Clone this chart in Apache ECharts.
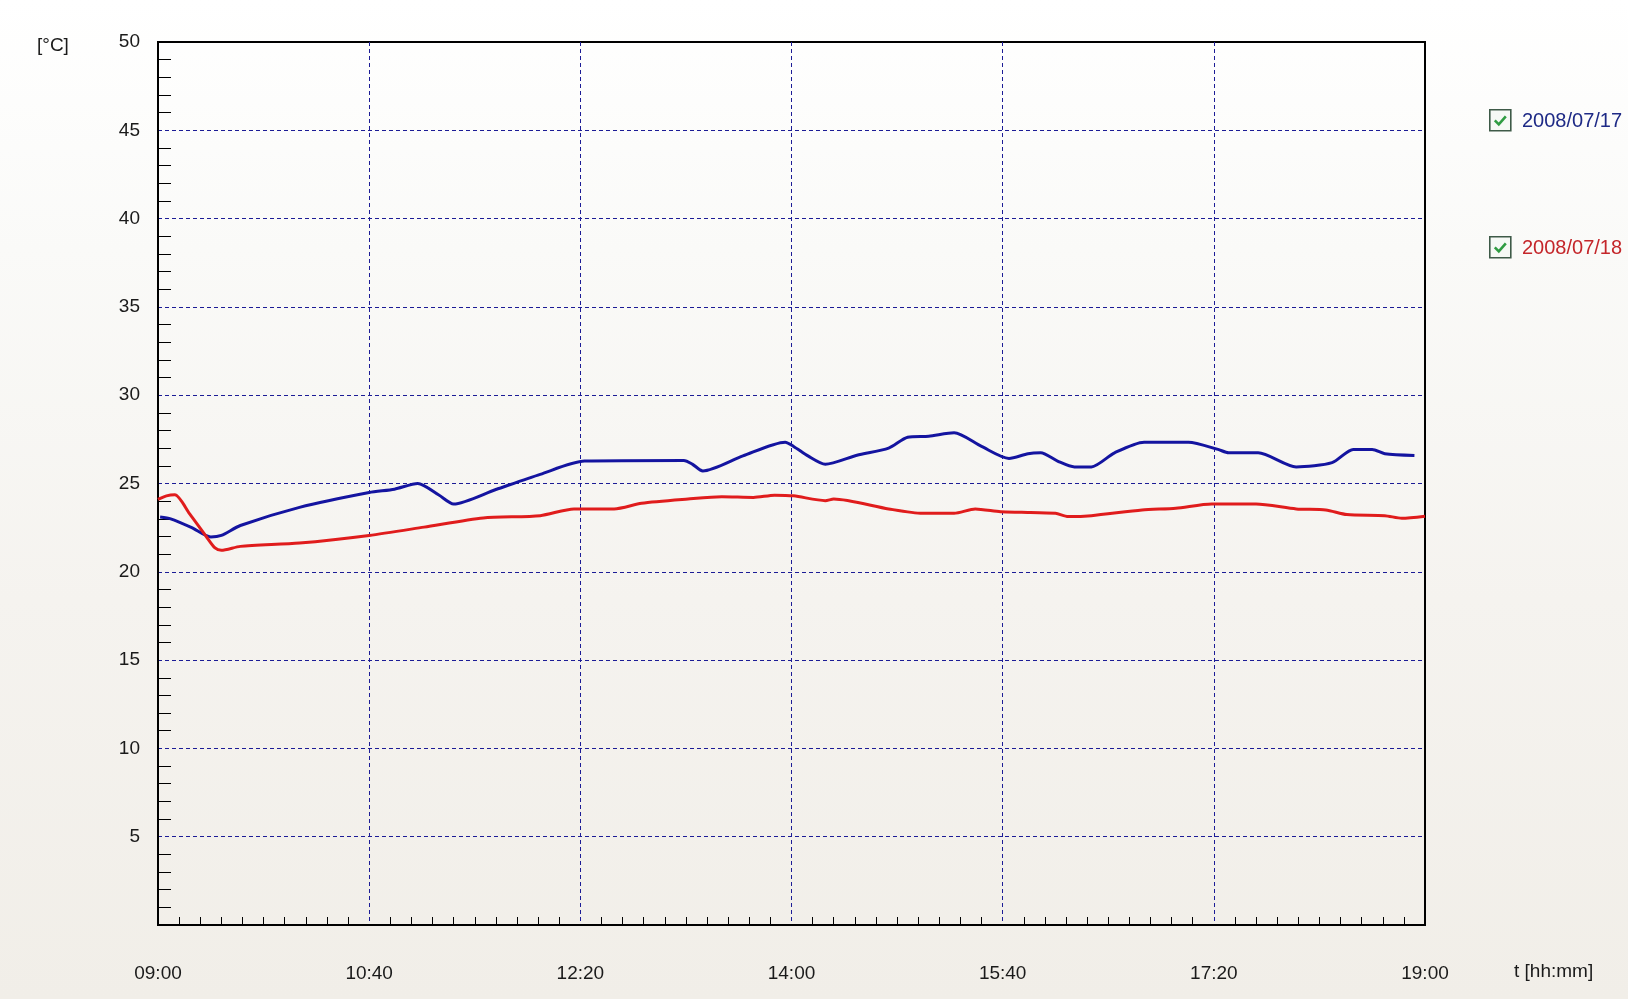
<!DOCTYPE html>
<html>
<head>
<meta charset="utf-8">
<title>Temperature 2008/07/17 – 2008/07/18</title>
<script src="https://cdn.jsdelivr.net/npm/echarts@6/dist/echarts.min.js"></script>
<style>
  html, body { margin: 0; padding: 0; }
  body {
    width: 1628px; height: 999px; overflow: hidden;
    background: linear-gradient(to bottom, #ffffff 0%, #fafaf8 25%, #f5f3ef 60%, #f1eee8 100%);
  }
  #chart { width: 1628px; height: 999px; }
</style>
</head>
<body>
<div id="chart"></div>
<script>
// Minutes after 09:00 and temperature in °C for each day
const seriesNames = ['2008/07/17', '2008/07/18'];

const day17Minutes = [1, 6, 16, 25, 30, 39, 67, 100, 112, 123, 133, 140, 160, 181, 202, 249, 253, 258, 277, 297, 301, 308, 316, 331, 346, 355, 365, 377, 390, 403, 412, 418, 426, 434, 442, 453, 467, 488, 502, 507, 521, 539, 556, 566, 575, 581, 595];
const day17Temps   = [23.1, 23.0, 22.5, 21.97, 22.06, 22.62, 23.65, 24.49, 24.68, 25.0, 24.35, 23.84, 24.66, 25.52, 26.27, 26.3, 26.1, 25.71, 26.56, 27.34, 27.1, 26.55, 26.09, 26.6, 27.0, 27.62, 27.68, 27.87, 27.1, 26.42, 26.69, 26.74, 26.27, 25.94, 25.94, 26.74, 27.34, 27.34, 26.93, 26.74, 26.74, 25.94, 26.18, 26.93, 26.93, 26.69, 26.59];

const day18Minutes = [0, 4, 8, 15, 23, 27, 30, 39, 67, 100, 126, 154, 181, 197, 216, 229, 251, 267, 282, 292, 301, 316, 320, 346, 362, 377, 387, 399, 409, 425, 431, 442, 466, 482, 499, 520, 539, 553, 563, 581, 589, 600];
const day18Temps   = [24.1, 24.3, 24.36, 23.28, 21.97, 21.35, 21.22, 21.44, 21.63, 22.06, 22.53, 23.05, 23.18, 23.56, 23.56, 23.88, 24.12, 24.25, 24.21, 24.34, 24.3, 24.03, 24.12, 23.56, 23.31, 23.31, 23.56, 23.4, 23.37, 23.31, 23.13, 23.18, 23.5, 23.6, 23.84, 23.84, 23.56, 23.5, 23.24, 23.18, 23.03, 23.15];

const startHour = 9;
const seriesColors = ['#1414a0', '#e01c1c'];
const legendTextColors = ['#1e2a86', '#c4262a'];

function zip(xs, ys) { return xs.map((x, i) => [x, ys[i]]); }

function clock(minutes) {
  const total = startHour * 60 + minutes;
  const h = Math.floor(total / 60), m = total % 60;
  return String(h).padStart(2, '0') + ':' + String(m).padStart(2, '0');
}

const labelFont = { fontFamily: '"Liberation Sans", Arial, sans-serif', fontSize: 19, color: '#1a1a1a' };
const gridLine = { color: '#1c1c96', width: 1, type: [4, 3] };

// Check box drawn next to each legend entry
function checkBox(top) {
  return {
    type: 'group', left: 1489, top: top,
    children: [
      { type: 'rect', shape: { x: 0, y: 0, width: 21, height: 21 },
        style: { fill: '#f6f9f5', stroke: '#3e5a48', lineWidth: 1.6 } },
      { type: 'polyline', shape: { points: [[5, 10.5], [9, 14.5], [16, 6.5]] },
        style: { stroke: '#2f9c42', lineWidth: 2.6, fill: null } }
    ]
  };
}

const chart = echarts.init(document.getElementById('chart'), null, { renderer: 'canvas' });

chart.setOption({
  backgroundColor: 'transparent',
  animation: false,
  grid: {
    left: 158, top: 42, right: 203, bottom: 74,
    show: true, borderColor: '#000', borderWidth: 2, backgroundColor: 'transparent'
  },
  legend: {
    orient: 'vertical', left: 1488, top: 105,
    icon: 'rect', itemWidth: 24, itemHeight: 22, itemGap: 105,
    itemStyle: { opacity: 0 },
    selectedMode: false,
    textStyle: { fontFamily: '"Liberation Sans", Arial, sans-serif', fontSize: 20 },
    data: seriesNames.map((n, i) => ({ name: n, textStyle: { color: legendTextColors[i] } }))
  },
  xAxis: {
    type: 'value', min: 0, max: 600, interval: 100,
    axisLine: { show: true, lineStyle: { color: '#000', width: 2 } },
    axisTick: { show: false, inside: true },
    minorTick: { show: true, splitNumber: 10, length: 8, lineStyle: { color: '#000', width: 1 } },
    splitLine: { show: true, showMinLine: false, showMaxLine: false, lineStyle: gridLine },
    axisLabel: Object.assign({ margin: 39, formatter: v => clock(v) }, labelFont)
  },
  yAxis: {
    type: 'value', min: 0, max: 50, interval: 5,
    axisLine: { show: true, lineStyle: { color: '#000', width: 2 } },
    axisTick: { show: false, inside: true },
    minorTick: { show: true, splitNumber: 5, length: 13, lineStyle: { color: '#000', width: 1 } },
    splitLine: { show: true, showMinLine: false, showMaxLine: false, lineStyle: gridLine },
    axisLabel: Object.assign({ margin: 18, formatter: v => (v === 0 ? '' : String(v)) }, labelFont)
  },
  graphic: [
    { type: 'text', left: 37, top: 36,
      style: { text: '[°C]', font: '19px "Liberation Sans", Arial, sans-serif', fill: '#1a1a1a' } },
    { type: 'text', left: 1514, top: 962,
      style: { text: 't [hh:mm]', font: '19px "Liberation Sans", Arial, sans-serif', fill: '#1a1a1a' } },
    checkBox(109),
    checkBox(236)
  ],
  series: [
    { name: seriesNames[0], type: 'line', data: zip(day17Minutes, day17Temps),
      showSymbol: false, smooth: 0.25, color: seriesColors[0],
      lineStyle: { width: 3, color: seriesColors[0] } },
    { name: seriesNames[1], type: 'line', data: zip(day18Minutes, day18Temps),
      showSymbol: false, smooth: 0.25, color: seriesColors[1],
      lineStyle: { width: 3, color: seriesColors[1] } }
  ]
});
</script>
</body>
</html>
